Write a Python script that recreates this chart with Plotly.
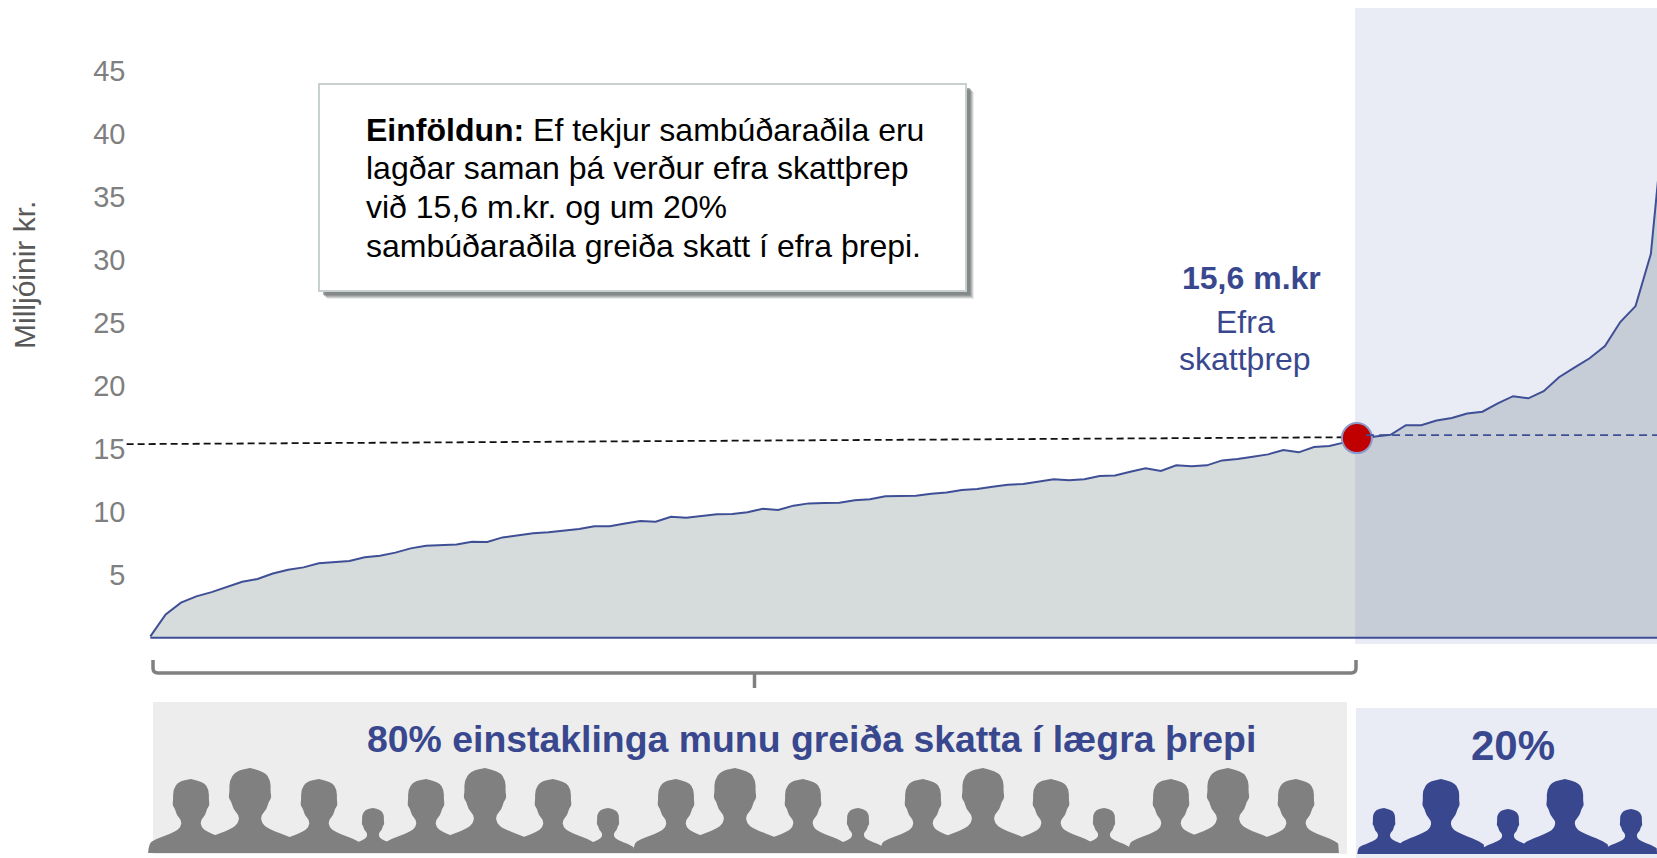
import plotly.graph_objects as go

# ---- data ----
income_by_percentile = [
    0.1, 1.85, 2.78, 3.28, 3.62, 4.0, 4.44, 4.66, 5.1, 5.4,
    5.58, 5.9, 6.0, 6.08, 6.38, 6.5, 6.75, 7.09, 7.3, 7.33,
    7.4, 7.62, 7.6, 7.96, 8.12, 8.28, 8.36, 8.52, 8.62, 8.84,
    8.84, 9.07, 9.26, 9.2, 9.6, 9.52, 9.68, 9.79, 9.81, 9.95,
    10.24, 10.13, 10.48, 10.66, 10.69, 10.71, 10.9, 10.98, 11.22, 11.27,
    11.27, 11.43, 11.53, 11.72, 11.8, 11.98, 12.14, 12.2, 12.38, 12.57,
    12.49, 12.57, 12.83, 12.88, 13.17, 13.44, 13.23, 13.68, 13.6, 13.68,
    14.07, 14.18, 14.37, 14.55, 14.89, 14.71, 15.13, 15.21, 15.5, 15.75,
    15.96, 16.1, 16.87, 16.87, 17.23, 17.43, 17.8, 17.94, 18.6, 19.17,
    19.0, 19.57, 20.67, 21.44, 22.18, 23.15, 25.05, 26.32, 30.46, 43.0,
]
percentiles = list(range(len(income_by_percentile)))
y_ticks = [5, 10, 15, 20, 25, 30, 35, 40, 45]
threshold_x = [78.8]
threshold_y = [15.84]
black_dash_x = [-1.55, 78.0]
black_dash_y = [15.36, 15.91]
blue_dash_x = [79.4, 98.4]
blue_dash_y = [16.07, 16.07]
panel_x = [78.68, 98.4]
panel_y = [-0.5, 50]
y_title = "Milljóinir kr."
box_lines = ["<b>Einföldun:</b> Ef tekjur sambúðaraðila eru",
             "lagðar saman þá verður efra skattþrep",
             "við 15,6 m.kr. og um 20%",
             "sambúðaraðila greiða skatt í efra þrepi."]
label_amount = "15,6 m.kr"
label_step_1 = "Efra"
label_step_2 = "skattþrep"
label_low = "80% einstaklinga munu greiða skatta í lægra þrepi"
label_high = "20%"

# ---- styles ----
FONT = "Liberation Sans"
BLUE = "#39488e"
LINE = "#3f4f96"
GRAY = "#808080"
W, H = 1657, 858

fig = go.Figure()
area_x = percentiles + [percentiles[-1], 0]
area_y = income_by_percentile + [0, 0]
fig.add_trace(go.Scatter(x=area_x, y=area_y, mode="none", fill="toself",
                         fillcolor="#d6dbdc", hoverinfo="skip", showlegend=False))
fig.add_trace(go.Scatter(x=[panel_x[0], panel_x[1], panel_x[1], panel_x[0], panel_x[0]],
                         y=[panel_y[0], panel_y[0], panel_y[1], panel_y[1], panel_y[0]],
                         mode="none", fill="toself", fillcolor="rgba(108,128,188,0.15)",
                         hoverinfo="skip", showlegend=False))
fig.add_trace(go.Scatter(x=area_x, y=area_y, mode="lines",
                         line=dict(color=LINE, width=2), showlegend=False))
fig.add_trace(go.Scatter(x=black_dash_x, y=black_dash_y, mode="lines",
                         line=dict(color="#111111", width=1.8, dash="7px,4px"),
                         hoverinfo="skip", showlegend=False))
fig.add_trace(go.Scatter(x=threshold_x, y=threshold_y, mode="markers",
                         marker=dict(size=30, color="#c00000",
                                     line=dict(color="#8d9ac9", width=2)),
                         showlegend=False))
fig.add_trace(go.Scatter(x=blue_dash_x, y=blue_dash_y, mode="lines",
                         line=dict(color=LINE, width=1.8, dash="8px,5px"),
                         hoverinfo="skip", showlegend=False))
# separate full-figure pixel axes for decoration
fig.add_trace(go.Scatter(x=[0], y=[0], xaxis="x2", yaxis="y2", mode="none",
                         hoverinfo="skip", showlegend=False))

shapes = []
def rect(x0, y0, x1, y1, fill, line=None, lw=0):
    shapes.append(dict(type="rect", xref="x2", yref="y2", x0=x0, y0=y0, x1=x1, y1=y1,
                       fillcolor=fill, line=dict(color=line or fill, width=lw), layer="above"))

# bottom boxes
rect(153, 702, 1347, 854, "#ededed")
rect(1356, 708, 1657, 858, "#e9ecf5")

# bracket
shapes.append(dict(type="path", xref="x2", yref="y2", layer="above",
                   path="M 153 660 L 153 668 Q 153 673 158 673 L 1351 673 Q 1356 673 1356 668 L 1356 660",
                   line=dict(color=GRAY, width=3.5)))
shapes.append(dict(type="path", xref="x2", yref="y2", layer="above",
                   path="M 754.5 673 L 754.5 688", line=dict(color=GRAY, width=3.5)))

# text box with soft shadow
for off, col in [(8, "rgba(120,125,125,0.15)"), (7, "rgba(120,125,125,0.25)"),
                 (6, "rgba(120,125,125,0.35)"), (5, "rgba(120,125,125,0.5)"),
                 (4, "rgba(120,125,125,0.6)")]:
    rect(319 + off, 84 + off, 966 + off, 291 + off, col)
rect(319, 84, 966, 291, "#ffffff", "#c8d0d0", 2)

# people silhouettes (right-hand profile, in units of the figure's height)
PROFILE = [(0, 0), (.17, .036), (.244, .149), (.24, .285), (.253, .353), (.217, .398),
           (.195, .489), (.127, .557), (.136, .647), (.217, .715), (.489, .819),
           (.57, .873), (.58, 1)]

def person(cx, top, base, color):
    h = base - top
    right = [(cx + dx * h, top + dy * h) for dx, dy in PROFILE]
    left = [(cx - dx * h, top + dy * h) for dx, dy in reversed(PROFILE)]
    pts = right + left[:-1]
    d = f"M {pts[0][0]:.1f} {pts[0][1]:.1f}"
    for i in range(1, len(pts)):
        nxt = pts[(i + 1) % len(pts)]
        mx = (pts[i][0] + nxt[0]) / 2
        my = (pts[i][1] + nxt[1]) / 2
        if pts[i][1] == base or nxt[1] == base:
            d += f" L {pts[i][0]:.1f} {pts[i][1]:.1f}"
        else:
            d += f" Q {pts[i][0]:.1f} {pts[i][1]:.1f} {mx:.1f} {my:.1f}"
    d += " Z"
    shapes.append(dict(type="path", xref="x2", yref="y2", layer="above", path=d,
                       fillcolor=color, line=dict(color=color, width=0)))

TOPS = {"S": 808, "M": 779, "L": 768}
gray_people = [(191, "M"), (250, "L"), (319, "M"), (373, "S"), (426, "M"), (485, "L"),
               (553, "M"), (608, "S"), (676, "M"), (735, "L"), (803, "M"), (858, "S"),
               (923, "M"), (983, "L"), (1051, "M"), (1104, "S"), (1171, "M"), (1228, "L"),
               (1296, "M")]
for cx, kind in gray_people:
    person(cx, TOPS[kind], 853, GRAY)
blue_people = [(1384, 808), (1441, 779), (1508, 809), (1565, 779), (1631, 809)]
for cx, top in blue_people:
    person(cx, top, 854, BLUE)

def note(text, x, y, size, color, bold=False, xanchor="center", angle=0):
    fig.add_annotation(xref="x2", yref="y2", x=x, y=y, text=f"<b>{text}</b>" if bold else text,
                       showarrow=False, xanchor=xanchor, yanchor="middle",
                       textangle=angle, font=dict(family=FONT, size=size, color=color))

for line_text, line_y in zip(box_lines, [130, 168, 207, 246]):
    note(line_text, 364, line_y, 32, "#000000", xanchor="left")
note(y_title, 24, 275, 30, "#595959", angle=-90)
note(label_amount, 1251, 278, 32, BLUE, bold=True)
note(label_step_1, 1245, 322, 32, BLUE)
note(label_step_2, 1245, 359, 32, BLUE)
note(label_low, 811, 739, 37.4, BLUE, bold=True)
note(label_high, 1513, 745, 42, BLUE, bold=True)

fig.update_layout(
    width=W, height=H, margin=dict(l=0, r=0, t=0, b=0),
    paper_bgcolor="#ffffff", plot_bgcolor="rgba(0,0,0,0)",
    showlegend=False, shapes=shapes,
    font=dict(family=FONT),
    xaxis=dict(domain=[0, 1], range=[-9.82, 98.4], visible=False, fixedrange=True),
    yaxis=dict(domain=[(H - 644) / H, (H - 7.7) / H], range=[-0.5, 50],
               anchor="free", position=150.4 / W, side="left",
               tickmode="array", tickvals=y_ticks, ticktext=[str(v) for v in y_ticks],
               showgrid=False, zeroline=False, showline=False, ticks="",
               ticklabelstandoff=25, fixedrange=True,
               tickfont=dict(family=FONT, size=29, color="#7f7f7f")),
    xaxis2=dict(domain=[0, 1], range=[0, W], visible=False, anchor="y2", fixedrange=True),
    yaxis2=dict(domain=[0, 1], range=[H, 0], visible=False, anchor="x2", fixedrange=True),
)

fig.write_html("out.html", config={"displayModeBar": False},
               post_script="document.body.style.margin='0';document.body.style.overflow='hidden';")
